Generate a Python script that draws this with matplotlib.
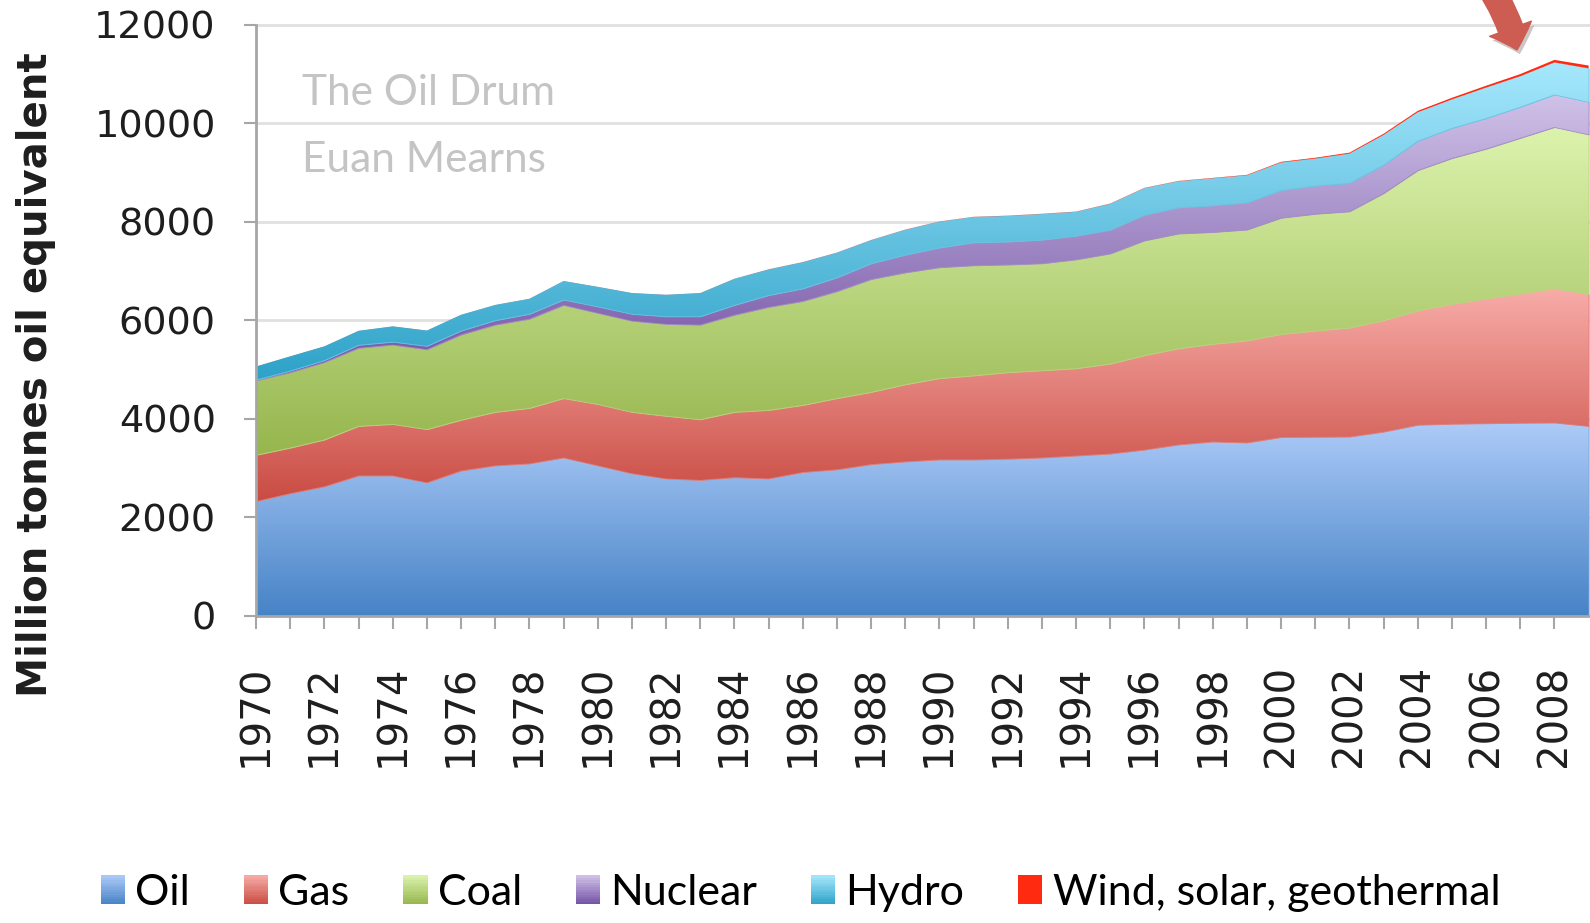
import numpy as np
import matplotlib
matplotlib.use("Agg")
import matplotlib.pyplot as plt
from matplotlib.colors import LinearSegmentedColormap
from matplotlib.patches import Rectangle, FancyArrowPatch
from matplotlib.legend_handler import HandlerBase
import matplotlib.patheffects as pe

# ---------------- data (Mtoe) ----------------
years = list(range(1970, 2010))
oil = [2330, 2490, 2630, 2850, 2850, 2710, 2950, 3055, 3095, 3215,
       3055, 2895, 2790, 2760, 2815, 2790, 2920, 2975, 3080, 3135,
       3175, 3175, 3190, 3215, 3255, 3295, 3375, 3480, 3540, 3520,
       3630, 3635, 3640, 3740, 3880, 3900, 3910, 3920, 3925, 3855]
gas = [940, 925, 950, 1005, 1045, 1080, 1030, 1085, 1125, 1205,
       1245, 1245, 1270, 1230, 1325, 1390, 1360, 1445, 1465, 1565,
       1650, 1705, 1755, 1770, 1770, 1825, 1915, 1950, 1980, 2070,
       2090, 2155, 2210, 2260, 2320, 2430, 2530, 2620, 2725, 2675]
coal = [1510, 1530, 1570, 1585, 1610, 1620, 1730, 1770, 1810, 1890,
        1850, 1850, 1865, 1920, 1970, 2090, 2110, 2170, 2290, 2270,
        2250, 2235, 2185, 2170, 2210, 2235, 2330, 2330, 2270, 2250,
        2360, 2370, 2360, 2580, 2845, 2960, 3040, 3160, 3270, 3240]
nuclear = [16, 32, 40, 60, 60, 70, 80, 90, 100, 110,
           130, 140, 155, 170, 200, 240, 257, 280, 320, 360,
           400, 465, 467, 480, 480, 482, 520, 530, 540, 550,
           560, 570, 575, 575, 595, 610, 620, 630, 660, 660]
hydro = [265, 290, 280, 285, 310, 310, 320, 310, 305, 375,
         395, 420, 435, 470, 530, 520, 530, 500, 470, 505,
         525, 515, 520, 520, 485, 525, 540, 530, 550, 550,
         560, 550, 595, 605, 580, 580, 620, 620, 650, 680]
wind = [1, 1, 1, 1, 1, 1, 1, 1, 1, 1,
        2, 2, 2, 2, 2, 3, 3, 3, 3, 4,
        4, 4, 5, 5, 5, 6, 6, 7, 8, 10,
        14, 17, 20, 24, 28, 33, 38, 44, 52, 58]
series_names = ["Oil", "Gas", "Coal", "Nuclear", "Hydro", "Wind, solar, geothermal"]
tick_years = list(range(1970, 2009))
tick_labels = [str(y) if y % 2 == 0 else "" for y in tick_years]
y_ticks = [0, 2000, 4000, 6000, 8000, 10000, 12000]

# gradient colours (bottom, top) per series
grad_colors = [("#4683c6", "#adcbf8"),
               ("#c94c43", "#f8aca8"),
               ("#96b64e", "#dcf3ad"),
               ("#7352a4", "#d0c2e8"),
               ("#2ea2c8", "#a6e8fd"),
               ("#ff2a10", "#ff2a10")]

# ---------------- figure ----------------
W, H = 1590, 923
fig = plt.figure(figsize=(W / 100, H / 100), dpi=100)
ax = fig.add_axes([256 / W, 307 / H, (W - 256) / W, (616 - 24.5) / H])

x = np.array(years, dtype=float)
data = [np.array(s, dtype=float) for s in (oil, gas, coal, nuclear, hydro, wind)]
base = np.zeros_like(x)
grad = np.linspace(0, 1, 256).reshape(-1, 1)
for k, s in enumerate(data):
    top = base + s
    cb, ct = grad_colors[k]
    cmap = LinearSegmentedColormap.from_list("g%d" % k, [cb, ct])
    mid = cmap(0.5)
    if k < 5:
        ax.fill_between(x, base, top, facecolor=mid, edgecolor=mid, linewidth=0.6,
                        zorder=2 + k * 0.1)
        poly = ax.fill_between(x, base, top, facecolor="none", edgecolor="none",
                               zorder=2 + k * 0.1)
        im = ax.imshow(grad, cmap=cmap, aspect="auto", origin="lower",
                       extent=[x[0], x[-1], base.min(), top.max()],
                       interpolation="bilinear", zorder=2.05 + k * 0.1)
        im.set_clip_path(poly.get_paths()[0], transform=ax.transData)
    else:
        ax.fill_between(x, base, top, facecolor=cb, edgecolor="none", linewidth=0,
                        zorder=2 + k * 0.1)
    base = top

ax.set_xlim(1970, 1970 + (W - 256) / 34.17)
ax.set_ylim(0, 12000)

# axes styling
for sp in ("top", "right"):
    ax.spines[sp].set_visible(False)
for sp in ("left", "bottom"):
    ax.spines[sp].set_color("#a6a6a6")
    ax.spines[sp].set_linewidth(2.0)
    ax.spines[sp].set_zorder(5)
ax.set_axisbelow(True)
ax.yaxis.grid(True, color="#e0e0e0", linewidth=2.0, zorder=0)
ax.set_yticks(y_ticks)
ax.set_xticks(tick_years)
ax.set_xticklabels(tick_labels, rotation=90)
ax.tick_params(axis="y", direction="out", length=9, width=1.5, color="#a6a6a6",
               labelsize=27.5, labelcolor="#1e1e1e", pad=20)
ax.tick_params(axis="x", direction="out", length=9, width=1.5, color="#a6a6a6",
               labelsize=29, labelcolor="#1e1e1e", pad=26)
ax.set_ylabel("Million tonnes oil equivalent", fontsize=29, fontweight="bold", color="#1e1e1e")
ax.yaxis.set_label_coords(-0.150, 0.408)

# watermark
ax.text(0.0345, 0.884, "The Oil Drum", transform=ax.transAxes, family="Lato",
        fontsize=30.5, color="#c4c4c4", ha="left", va="center", zorder=6)
ax.text(0.0345, 0.771, "Euan Mearns", transform=ax.transAxes, family="Lato",
        fontsize=30.5, color="#c4c4c4", ha="left", va="center", zorder=6)

# red arrow (annotation)
arrow = FancyArrowPatch((1430 / W, 1 + 70 / H), (1517 / W, 1 - 50 / H),
                        transform=fig.transFigure,
                        connectionstyle="arc3,rad=-0.2",
                        arrowstyle="simple,head_length=0.8,head_width=1.6,tail_width=0.9",
                        mutation_scale=20, color="#cd5c53", shrinkA=0, shrinkB=0,
                        zorder=10,
                        path_effects=[pe.SimplePatchShadow(offset=(2, -3), alpha=0.25),
                                      pe.Normal()])
fig.add_artist(arrow)


# legend with gradient handles
class GradientHandler(HandlerBase):
    def __init__(self, cb, ct):
        super().__init__()
        self.cb, self.ct = cb, ct

    def create_artists(self, legend, orig_handle, xdescent, ydescent,
                       width, height, fontsize, trans):
        cmap = LinearSegmentedColormap.from_list("h", [self.cb, self.ct])
        n = 12
        arts = []
        for i in range(n):
            arts.append(Rectangle((-xdescent, -ydescent + i * height / n), width,
                                  height / n * 1.05, facecolor=cmap((i + 0.5) / n),
                                  edgecolor="none", transform=trans))
        return arts


handles = [Rectangle((0, 0), 1, 1) for _ in series_names]
hmap = {h: GradientHandler(*grad_colors[k]) for k, h in enumerate(handles)}
fig.legend(handles, series_names, handler_map=hmap, loc="center left",
           bbox_to_anchor=(101 / W, 1 - 893 / H), ncol=6, frameon=False,
           prop={"family": "Lato", "size": 31}, handlelength=0.56, handleheight=0.65,
           handletextpad=0.24, columnspacing=1.25, borderpad=0, borderaxespad=0)

fig.savefig("out.png", dpi=100)
